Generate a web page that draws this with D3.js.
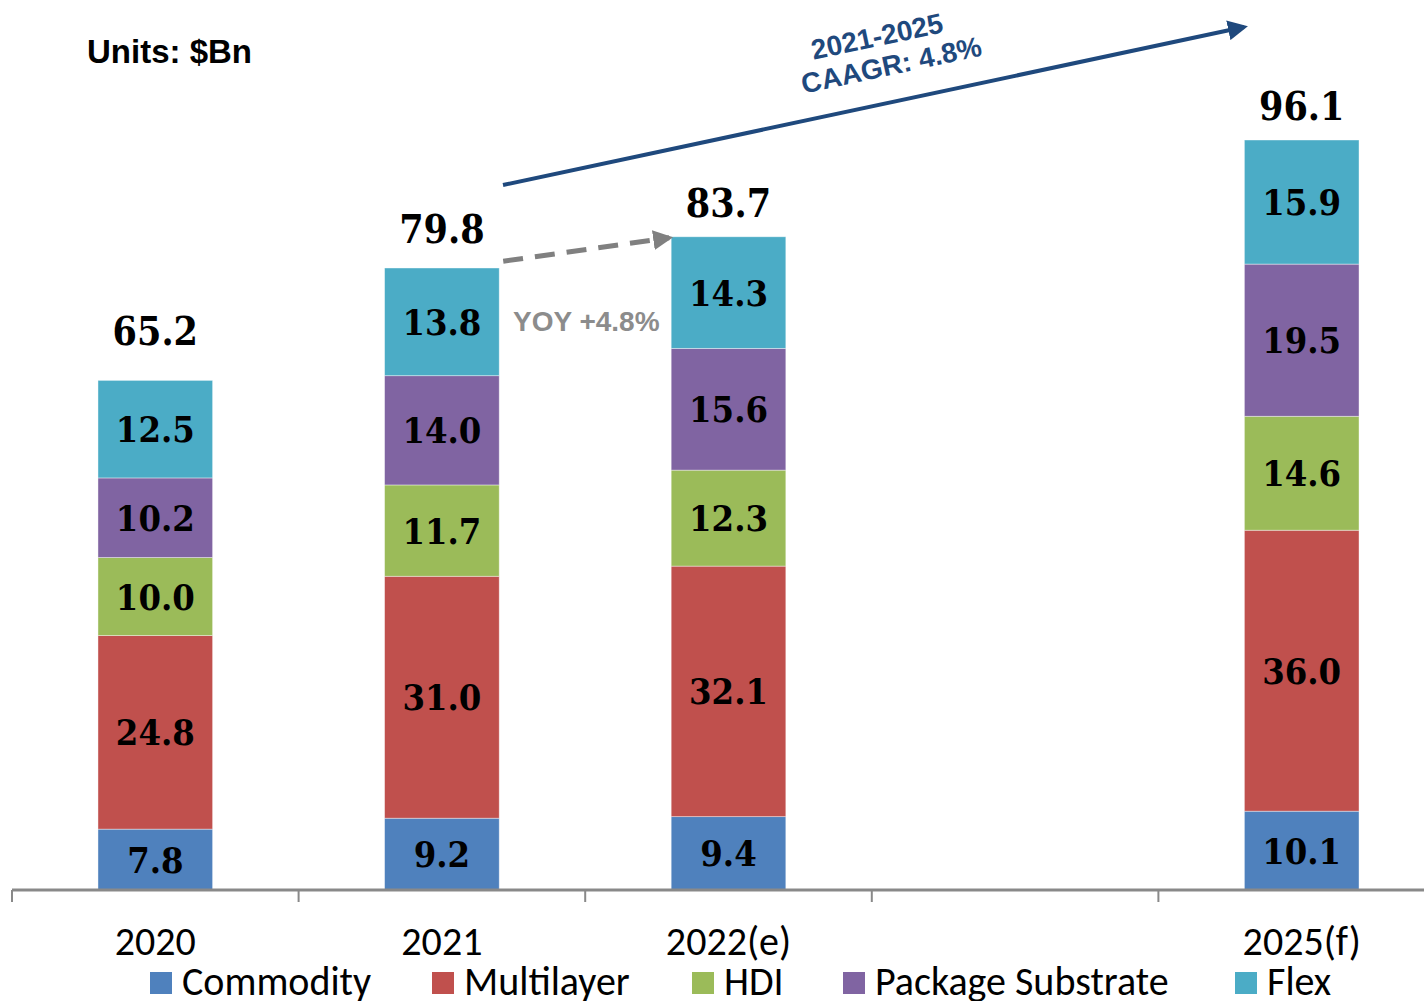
<!DOCTYPE html>
<html lang="en">
<head>
    <meta charset="UTF-8">
    <title>PCB market</title>
    <script src="https://d3js.org/d3.v7.min.js"></script>
    <style>
        body { margin: 0; background: #fff; }
        svg { display: block; }
        .val { font-family: "DejaVu Serif Condensed", "DejaVu Serif", serif; font-stretch: condensed; font-weight: bold; fill: #000; }
        .cal { font-family: Carlito, "Liberation Sans Narrow", "Open Sans", sans-serif; fill: #000; }
        .arial { font-family: "Liberation Sans", Arial, sans-serif; font-weight: bold; }
    </style>
</head>
<body>
<div id="container"></div>
<script>
    // data
    const categories = ['2020', '2021', '2022(e)', '', '2025(f)'];
    const years = ['2020', '2021', '2022(e)', '2025(f)'];
    const seriesNames = ['Commodity', 'Multilayer', 'HDI', 'Package Substrate', 'Flex'];
    const commodity = [7.8, 9.2, 9.4, 10.1];
    const multilayer = [24.8, 31.0, 32.1, 36.0];
    const hdi = [10.0, 11.7, 12.3, 14.6];
    const packageSub = [10.2, 14.0, 15.6, 19.5];
    const flex = [12.5, 13.8, 14.3, 15.9];
    const totals = [65.2, 79.8, 83.7, 96.1];
    const colors = ['#4F81BD', '#C0504D', '#9BBB59', '#8064A2', '#4BACC6'];

    // gap between bar top and total label baseline (excel placed them unevenly)
    const totalGap = [36, 24, 20, 20];

    const width = 1424, height = 1001;
    const baseY = 890;

    const svg = d3.select('#container').append('svg')
        .attr('width', width).attr('height', height);

    const x = d3.scaleBand()
        .domain(categories.map((c, i) => i))
        .range([12, 1445])
        .paddingInner(0.6)
        .paddingOuter(0.3);

    const y = d3.scaleLinear()
        .domain([0, 96.1])
        .range([baseY, 140]);

    const color = d3.scaleOrdinal().domain(seriesNames).range(colors);

    const table = years.map((yr, i) => ({
        year: yr,
        idx: categories.indexOf(yr),
        'Commodity': commodity[i],
        'Multilayer': multilayer[i],
        'HDI': hdi[i],
        'Package Substrate': packageSub[i],
        'Flex': flex[i],
        total: totals[i]
    }));

    const stacked = d3.stack().keys(seriesNames)(table);

    // bars
    const layers = svg.selectAll('g.layer')
        .data(stacked)
        .enter()
        .append('g')
        .attr('fill', d => color(d.key));

    layers.selectAll('rect')
        .data(d => d)
        .enter()
        .append('rect')
        .attr('x', d => x(d.data.idx))
        .attr('width', x.bandwidth())
        .attr('y', d => y(d[1]))
        .attr('height', d => y(d[0]) - y(d[1]))
        .attr('stroke', '#fff')
        .attr('stroke-opacity', 0.5)
        .attr('stroke-width', 0.8);

    // segment labels
    layers.selectAll('text')
        .data(d => d)
        .enter()
        .append('text')
        .attr('class', 'val')
        .attr('x', d => x(d.data.idx) + x.bandwidth() / 2)
        .attr('y', d => (y(d[0]) + y(d[1])) / 2 + 13)
        .attr('text-anchor', 'middle')
        .style('font-size', '36px')
        .text(d => (d[1] - d[0]).toFixed(1));

    // totals
    svg.selectAll('text.total')
        .data(table)
        .enter()
        .append('text')
        .attr('class', 'val total')
        .attr('x', d => x(d.idx) + x.bandwidth() / 2)
        .attr('y', (d, i) => y(d.total) - totalGap[i])
        .attr('text-anchor', 'middle')
        .style('font-size', '39px')
        .text(d => d.total.toFixed(1));

    // x axis
    const step = x.step();
    const tickXs = d3.range(categories.length).map(i => x(i) - (step - x.bandwidth()) / 2);
    svg.append('line')
        .attr('x1', 12).attr('x2', width)
        .attr('y1', baseY).attr('y2', baseY)
        .attr('stroke', '#898989').attr('stroke-width', 3);
    svg.selectAll('line.tick')
        .data(tickXs)
        .enter()
        .append('line')
        .attr('x1', d => d).attr('x2', d => d)
        .attr('y1', baseY).attr('y2', baseY + 12)
        .attr('stroke', '#898989').attr('stroke-width', 2);

    svg.selectAll('text.cat')
        .data(categories)
        .enter()
        .append('text')
        .attr('class', 'cal cat')
        .attr('x', (d, i) => x(i) + x.bandwidth() / 2)
        .attr('y', 955)
        .attr('text-anchor', 'middle')
        .style('font-size', '40px')
        .text(d => d);

    // legend
    const legendX = [150, 432, 692, 843, 1235];
    const lg = svg.selectAll('g.legend')
        .data(seriesNames)
        .enter()
        .append('g')
        .attr('transform', (d, i) => `translate(${legendX[i]},972)`);
    lg.append('rect')
        .attr('width', 22).attr('height', 22)
        .attr('fill', d => color(d));
    lg.append('text')
        .attr('class', 'cal')
        .attr('x', 32).attr('y', 23)
        .style('font-size', '40px')
        .text(d => d);

    // units
    svg.append('text')
        .attr('class', 'arial')
        .attr('x', 87).attr('y', 63)
        .style('font-size', '33px')
        .attr('fill', '#000')
        .text('Units: $Bn');

    // arrows
    const defs = svg.append('defs');
    defs.append('marker').attr('id', 'headBlue')
        .attr('viewBox', '0 0 10 10').attr('refX', 8).attr('refY', 5)
        .attr('markerWidth', 5).attr('markerHeight', 5).attr('orient', 'auto')
        .append('path').attr('d', 'M0,0L10,5L0,10z').attr('fill', '#1F497D');
    defs.append('marker').attr('id', 'headGrey')
        .attr('viewBox', '0 0 10 10').attr('refX', 8).attr('refY', 5)
        .attr('markerWidth', 4).attr('markerHeight', 4).attr('orient', 'auto')
        .append('path').attr('d', 'M0,0L10,5L0,10z').attr('fill', '#808080');

    const i21 = table[1], i22 = table[2];
    const gx1 = x(i21.idx) + x.bandwidth() + 4, gy1 = y(i21.total) - 6;
    const gx2 = x(i22.idx) - 2, gy2 = y(i22.total) + 1;
    svg.append('line')
        .attr('x1', gx1).attr('y1', gy1).attr('x2', gx2).attr('y2', gy2)
        .attr('stroke', '#808080').attr('stroke-width', 5)
        .attr('stroke-dasharray', '20,12')
        .attr('marker-end', 'url(#headGrey)');
    svg.append('text')
        .attr('class', 'arial')
        .attr('x', 513).attr('y', 331)
        .style('font-size', '28px')
        .attr('fill', '#8C8C8C')
        .text('YOY +4.8%');

    svg.append('line')
        .attr('x1', 503).attr('y1', 185).attr('x2', 1244).attr('y2', 27)
        .attr('stroke', '#1F497D').attr('stroke-width', 4)
        .attr('marker-end', 'url(#headBlue)');

    const ang = Math.atan2(27 - 185, 1244 - 503) * 180 / Math.PI;
    const cg = svg.append('g')
        .attr('transform', `translate(889,54) rotate(${ang})`);
    cg.append('text')
        .attr('class', 'arial').attr('text-anchor', 'middle')
        .attr('x', -8).attr('y', -10)
        .style('font-size', '28px').attr('fill', '#1F497D')
        .text('2021-2025');
    cg.append('text')
        .attr('class', 'arial').attr('text-anchor', 'middle')
        .attr('x', 0).attr('y', 21)
        .style('font-size', '28px').attr('fill', '#1F497D')
        .text('CAAGR: 4.8%');
</script>
</body>
</html>
